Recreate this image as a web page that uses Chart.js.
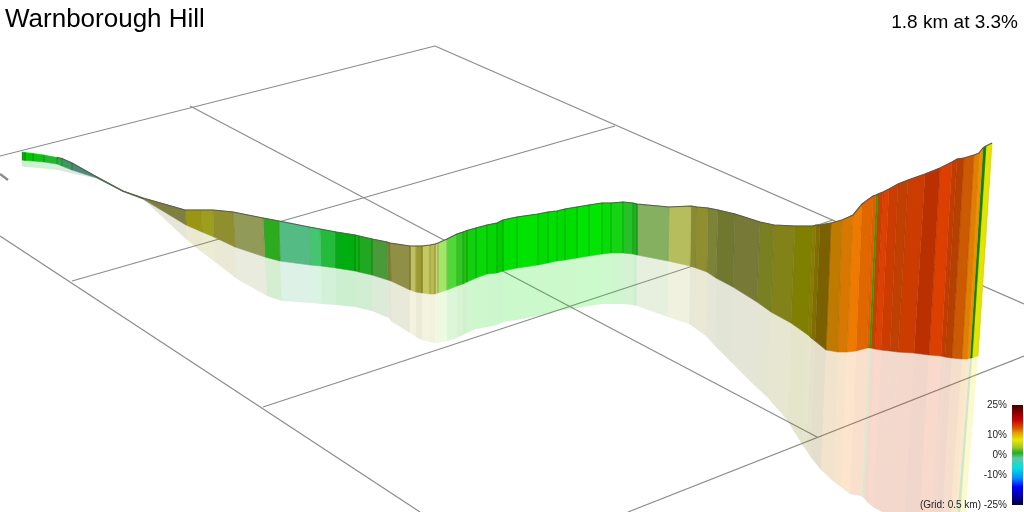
<!DOCTYPE html>
<html>
<head>
<meta charset="utf-8">
<title>Warnborough Hill</title>
<script src="https://cdn.jsdelivr.net/npm/chart.js@4/dist/chart.umd.min.js"></script>
<style>
  html, body { margin: 0; padding: 0; background: #fff; overflow: hidden; }
  canvas { display: block; }
</style>
</head>
<body>
<canvas id="profile" width="1024" height="512" style="width:1024px;height:512px"></canvas>
<script>
// Everything on this chart is a 3D view flattened to the screen, so values are read in picture units
const titleText = 'Warnborough Hill';
const summaryText = '1.8 km at 3.3%';
const gridNote = '(Grid: 0.5 km)';

// Ribbon stations: top edge, foot of the wall, foot of the pale reflection
const topX = [22, 25, 33, 44, 57, 62, 72, 97, 123, 143, 185, 201, 213, 233, 263, 279, 309, 320, 336, 355, 359, 372, 387, 390, 410, 416, 422, 430, 435, 438, 447, 457, 463, 467, 476, 487, 497, 503, 517, 538, 548, 557, 565, 577, 589, 602, 611, 623, 633, 637, 669, 691, 697, 708, 718, 735, 760, 774, 795, 813, 816, 820, 831, 842, 853, 862, 873, 876, 878, 883, 889, 898, 908, 925, 940, 952, 957, 964, 974, 979, 983, 986, 992];
const topY = [152, 152.5, 153.5, 155, 157.5, 158.5, 163, 177, 191, 198, 210, 210, 210, 212, 218, 221, 227, 229, 232, 235, 236, 239, 242, 243, 246, 246, 246, 245, 244, 243, 239, 234, 232, 230.5, 228, 225, 223, 220, 217, 214, 212, 211, 209, 207, 205, 203, 203, 202, 203, 204, 207, 206, 207, 208, 210, 214, 222, 225, 226, 226, 225, 225, 223, 220, 215, 204, 196, 195, 194, 192, 189, 184, 180, 174, 168, 162, 159, 158, 155, 153, 148, 146, 143];
const footX = [22, 25, 33, 44, 57, 62, 72, 97, 123, 143, 186, 202, 214, 235, 265, 280, 310, 321, 336, 355, 359, 372, 388, 391, 410, 416, 422, 430, 435, 438, 447, 457, 463, 467, 476, 487, 497, 503, 517, 538, 548, 557, 565, 577, 589, 602, 611, 623, 633, 637, 668, 690, 696, 707, 716, 733, 757, 771, 791, 808, 811, 815, 826, 838, 847, 856, 867, 869, 871, 875, 881, 890, 898, 914, 929, 941, 945, 952, 962, 967, 970, 972, 978];
const footY = [160, 160.5, 161, 162, 164, 166, 170, 178, 191.5, 199, 225, 232, 237, 247, 257, 261, 265, 266, 268, 271, 272, 275, 280, 281, 290, 292, 293, 294, 294, 293, 290, 286, 284, 282, 278, 274, 273, 271, 268, 265, 263, 261, 260, 258, 256, 254, 253, 253, 254, 255, 261, 266, 268, 272, 278, 287, 302, 312, 323, 335, 338, 341, 350, 352, 352, 351, 348, 348, 348, 349, 350, 351, 352, 353, 355, 356, 357, 358, 359, 359, 358, 358, 356];
const shadowX = [22, 25, 33, 44, 57, 62, 72, 97, 123, 143, 187, 203, 215, 237, 267, 282, 311, 322, 336, 355, 359, 372, 389, 392, 410, 416, 422, 430, 435, 438, 447, 457, 463, 467, 476, 487, 497, 503, 517, 538, 548, 557, 565, 577, 589, 602, 611, 623, 633, 637, 668, 689, 695, 706, 715, 731, 754, 768, 787, 803, 806, 810, 821, 834, 841, 850, 861, 862, 864, 868, 873, 882, 888, 903, 918, 930, 933, 940, 947, 951, 953, 956, 961];
const shadowY = [166, 167, 167.5, 168.5, 170, 171, 173.5, 178.5, 192, 199, 240, 253, 262, 279, 296, 301, 303, 304, 305, 307, 308, 311, 318, 322, 333, 337, 340, 342, 343, 343, 341, 338, 335, 333, 329, 327, 325, 322, 320, 316, 314, 311, 310, 308, 306, 304, 304, 304, 305, 306, 317, 324, 328, 336, 346, 362, 385, 398, 420, 446, 450, 456, 470, 482, 487, 494, 496, 497, 498, 503, 507, 512, 524, 532, 542, 550, 555, 558, 563, 565, 568, 570, 570];

// One colour per slice between two stations
const sliceColors = ['#00b400', '#00c600', '#10c014', '#20b830', '#32a844', '#3a9a60', '#4f8a78', '#2a7a3a', '#3a6a20', '#7f8040',
  '#9a9614', '#9c9e20', '#8f8f30', '#929a58', '#2caa20', '#55bb85', '#45c570', '#22bb3a', '#00ad10', '#10b010',
  '#20a820', '#4a9a3a', '#807a30', '#8f8f45', '#c0c060', '#9a9a30', '#c4c860', '#b8bb50', '#cccf78', '#a0e868',
  '#50d838', '#30c820', '#20c010', '#10d010', '#08d808', '#05d405', '#00cc00', '#00e000', '#00e200', '#00dc00',
  '#00e000', '#00dc00', '#00de00', '#00e404', '#02e402', '#08dc08', '#14d414', '#28c028', '#20b020', '#85b060',
  '#b5bd5d', '#8a8a30', '#8f8f2f', '#7c8238', '#707830', '#767a36', '#788022', '#828218', '#7f7f00', '#8f7a00',
  '#7f6f00', '#7a6000', '#c07a00', '#d87800', '#ee7b00', '#e06600', '#e85a00', '#30a000', '#cc3d00', '#dd4000',
  '#cc3c00', '#bf4000', '#cc3c00', '#bb3000', '#dd3f00', '#c23c00', '#b54000', '#cc5a00', '#e08000', '#f09000',
  '#008800', '#e4e400'];

// Ground grid lines, as start and end of each line
const gridStartX = [0, 72, 263, 628, 435, 190, 0];
const gridStartY = [156, 281, 407, 512, 46, 106, 236];
const gridEndX = [435, 615, 833, 1024, 1024, 817, 420];
const gridEndY = [46, 126, 220, 356, 304, 437, 512];

// Direction arrow stub at the left edge
const arrowX = [0, 8];
const arrowY = [174, 180];

// Grade colour key
const keyGrades = [25, 22, 17.5, 13, 11, 7.5, 4, 1, -1.5, -6.5, -11.5, -16, -21, -25];
const keyColors = ['#3a0000', '#7a0000', '#cc0000', '#dd6000', '#e8a000', '#e8e800', '#a8c820', '#20b020', '#60c8a0', '#00e0e0', '#0090ff', '#0000ff', '#0000a0', '#000040'];
const keyTicks = [25, 10, 0, -10, -25];

const ORDER_GRID = 30, ORDER_SHADOW = 20, ORDER_WALL = 10, ORDER_LINES = 5, ORDER_KEY = 1;

function polygon(xsA, ysA, xsB, ysB, i) {
    return [
        { x: xsA[i], y: ysA[i] },
        { x: xsA[i + 1], y: ysA[i + 1] },
        { x: xsB[i + 1], y: ysB[i + 1] },
        { x: xsB[i], y: ysB[i] }
    ];
}

function stroke(data, color, width, order) {
    return { data, borderColor: color, borderWidth: width, fill: false, order };
}

const datasets = [];

// Grid goes first so the pale reflection lies over it and the wall hides it
gridStartX.forEach((x, i) => {
    datasets.push(stroke([{ x, y: gridStartY[i] }, { x: gridEndX[i], y: gridEndY[i] }], '#8c8c8c', 1.2, ORDER_GRID));
});
datasets.push(stroke([{ x: arrowX[0], y: arrowY[0] }, { x: arrowX[1], y: arrowY[1] }], '#8c8c8c', 2.5, ORDER_GRID));

sliceColors.forEach((color, i) => {
    datasets.push({
        data: polygon(footX, footY, shadowX, shadowY, i),
        fill: 'shape', backgroundColor: color + '33', borderWidth: 0, order: ORDER_SHADOW
    });
    datasets.push({
        data: polygon(topX, topY, footX, footY, i),
        fill: 'shape', backgroundColor: color, borderColor: color, borderWidth: 0.6, order: ORDER_WALL
    });
});

// Faint seams between slices and the dark line along the top
const seams = [];
topX.forEach((x, i) => {
    seams.push({ x, y: topY[i] }, { x: footX[i], y: footY[i] }, { x: NaN, y: NaN });
});
datasets.push(stroke(seams, 'rgba(0,0,0,0.07)', 1, ORDER_LINES));
datasets.push(stroke(topX.map((x, i) => ({ x, y: topY[i] })).slice(4), '#5a5a5a', 1.2, ORDER_LINES));

// Colour key bar, filled with a gradient built from the key arrays
datasets.push({
    data: [{ x: 1012, y: 25 }, { x: 1023, y: 25 }, { x: 1023, y: -25 }, { x: 1012, y: -25 }],
    yAxisID: 'keyY',
    fill: 'shape',
    borderWidth: 0,
    order: ORDER_KEY,
    backgroundColor: context => {
        const keyY = context.chart.scales.keyY;
        const top = keyY ? keyY.getPixelForValue(25) : NaN;
        const bottom = keyY ? keyY.getPixelForValue(-25) : NaN;
        if (!Number.isFinite(top) || !Number.isFinite(bottom)) {
            return '#000';
        }
        const gradient = context.chart.ctx.createLinearGradient(0, top, 0, bottom);
        keyGrades.forEach((grade, i) => gradient.addColorStop((25 - grade) / 50, keyColors[i]));
        return gradient;
    }
});

// Canvas text: heading, summary and the key tick labels
const textPlugin = {
    id: 'textPlugin',
    afterDraw(chart) {
        const ctx = chart.ctx;
        const keyY = chart.scales.keyY;
        ctx.save();
        ctx.fillStyle = '#000';
        ctx.textBaseline = 'alphabetic';
        ctx.textAlign = 'left';
        ctx.font = '26px "Liberation Sans", Arial, sans-serif';
        ctx.fillText(titleText, 5, 27);
        ctx.textAlign = 'right';
        ctx.font = '19px "Liberation Sans", Arial, sans-serif';
        ctx.fillText(summaryText, 1018, 28);
        ctx.font = '10px "Liberation Sans", Arial, sans-serif';
        ctx.fillStyle = '#222';
        ctx.textBaseline = 'middle';
        keyTicks.forEach(tick => {
            ctx.fillText(tick + '%', 1007, keyY.getPixelForValue(tick));
        });
        ctx.fillText(gridNote, 981, keyY.getPixelForValue(-25));
        ctx.restore();
    }
};

new Chart(document.getElementById('profile'), {
    type: 'scatter',
    data: { datasets },
    plugins: [textPlugin],
    options: {
        responsive: false,
        animation: false,
        layout: { padding: 0 },
        showLine: true,
        elements: { point: { radius: 0 }, line: { tension: 0, borderCapStyle: 'butt' } },
        plugins: { legend: { display: false }, tooltip: { enabled: false }, title: { display: false } },
        scales: {
            x: { type: 'linear', min: 0, max: 1024, display: false },
            y: { type: 'linear', min: 0, max: 512, reverse: true, display: false },
            // 2 px per percent, 0% sitting at pixel 455
            keyY: { type: 'linear', min: -28.5, max: 227.5, display: false }
        }
    }
});
</script>
</body>
</html>
